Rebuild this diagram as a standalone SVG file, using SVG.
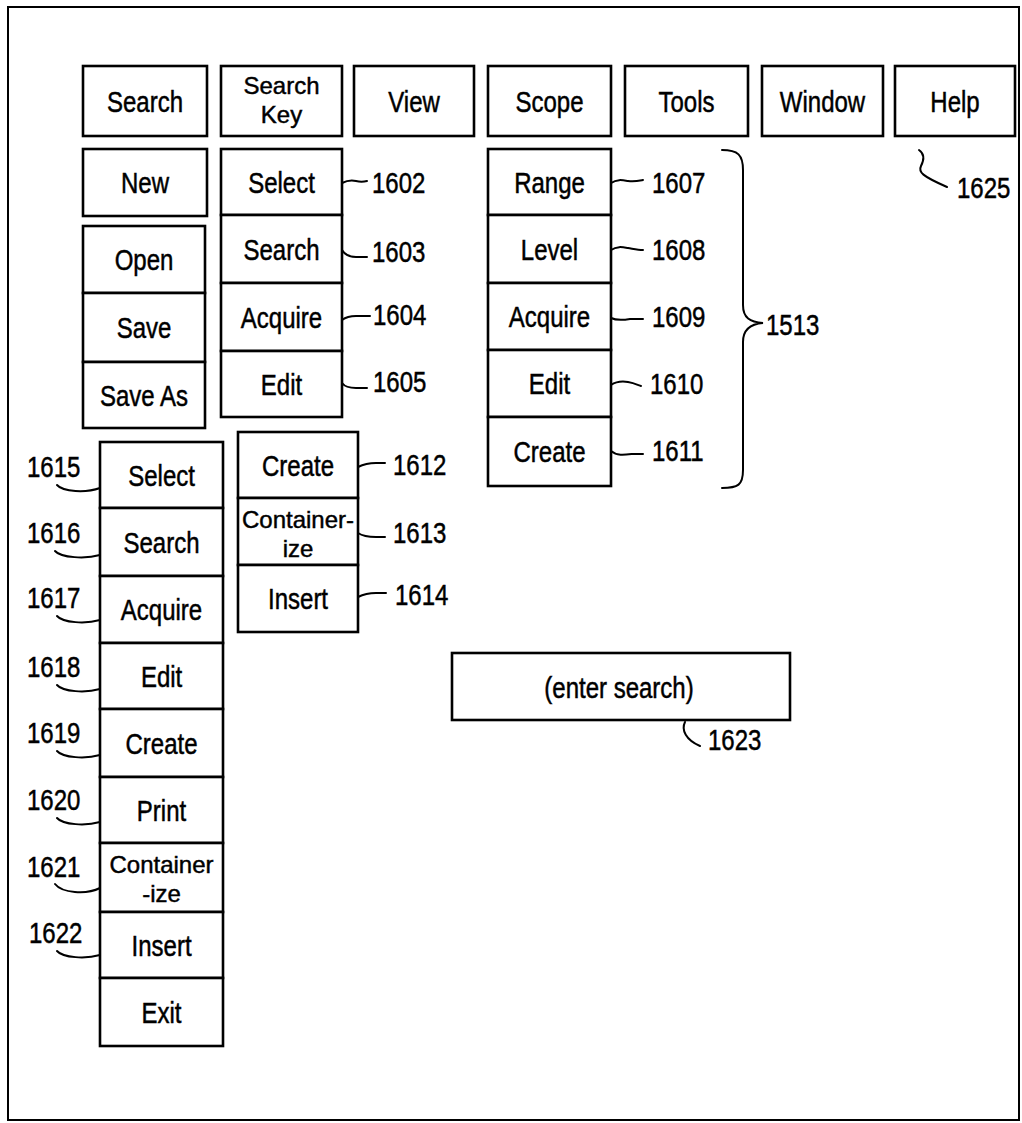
<svg xmlns="http://www.w3.org/2000/svg" width="1022" height="1123" viewBox="0 0 1022 1123">
<style>
  .frame { fill: none; stroke: #000; stroke-width: 2; }
  .box { fill: #fff; stroke: #000; stroke-width: 2.6; }
  .t { font-family: "Liberation Sans", Arial, sans-serif; font-size: 30px; fill: #000; stroke: #000; stroke-width: 0.5; text-anchor: middle; transform-box: fill-box; transform-origin: center; transform: scaleX(0.8); }
  .t2 { font-family: "Liberation Sans", Arial, sans-serif; font-size: 24px; fill: #000; stroke: #000; stroke-width: 0.45; text-anchor: middle; }
  .n { font-family: "Liberation Sans", Arial, sans-serif; font-size: 30px; fill: #000; stroke: #000; stroke-width: 0.5; text-anchor: start; transform-box: fill-box; transform-origin: left center; transform: scaleX(0.8); }
  .ld { fill: none; stroke: #000; stroke-width: 2; stroke-linecap: round; }
</style>
<rect class="frame" x="8" y="7" width="1011" height="1113"/>

<!-- Menu bar -->
<g id="menu-search"><rect class="box" x="83" y="66" width="124" height="70"/><text class="t" x="145" y="112">Search</text></g>
<g id="menu-searchkey"><rect class="box" x="221" y="66" width="121" height="70"/><text class="t2" x="281.5" y="94">Search<tspan x="281.5" y="123">Key</tspan></text></g>
<g id="menu-view"><rect class="box" x="354" y="66" width="120" height="70"/><text class="t" x="414" y="112">View</text></g>
<g id="menu-scope"><rect class="box" x="488" y="66" width="123" height="70"/><text class="t" x="549.5" y="112">Scope</text></g>
<g id="menu-tools"><rect class="box" x="625" y="66" width="123" height="70"/><text class="t" x="686.5" y="112">Tools</text></g>
<g id="menu-window"><rect class="box" x="762" y="66" width="121" height="70"/><text class="t" x="822.5" y="112">Window</text></g>
<g id="menu-help"><rect class="box" x="895" y="66" width="120" height="70"/><text class="t" x="955" y="112">Help</text></g>

<!-- Search menu items -->
<g id="file-new"><rect class="box" x="83" y="149" width="124" height="67"/><text class="t" x="145" y="193.5">New</text></g>
<g id="file-open"><rect class="box" x="83" y="226" width="122" height="67"/><text class="t" x="144" y="270.5">Open</text></g>
<g id="file-save"><rect class="box" x="83" y="293" width="122" height="69"/><text class="t" x="144" y="338.5">Save</text></g>
<g id="file-saveas"><rect class="box" x="83" y="362" width="122" height="66"/><text class="t" x="144" y="406">Save As</text></g>

<!-- Search Key dropdown -->
<g id="sk-select"><rect class="box" x="221" y="149" width="121" height="66"/><text class="t" x="281.5" y="193">Select</text></g>
<g id="sk-search"><rect class="box" x="221" y="215" width="121" height="68"/><text class="t" x="281.5" y="260">Search</text></g>
<g id="sk-acquire"><rect class="box" x="221" y="283" width="121" height="68"/><text class="t" x="281.5" y="328">Acquire</text></g>
<g id="sk-edit"><rect class="box" x="221" y="351" width="121" height="66"/><text class="t" x="281.5" y="395">Edit</text></g>

<!-- Scope dropdown -->
<g id="sc-range"><rect class="box" x="488" y="149" width="123" height="66"/><text class="t" x="549.5" y="193">Range</text></g>
<g id="sc-level"><rect class="box" x="488" y="215" width="123" height="68"/><text class="t" x="549.5" y="260">Level</text></g>
<g id="sc-acquire"><rect class="box" x="488" y="283" width="123" height="67"/><text class="t" x="549.5" y="327.5">Acquire</text></g>
<g id="sc-edit"><rect class="box" x="488" y="350" width="123" height="67"/><text class="t" x="549.5" y="394.5">Edit</text></g>
<g id="sc-create"><rect class="box" x="488" y="417" width="123" height="69"/><text class="t" x="549.5" y="462">Create</text></g>

<!-- Create / Containerize / Insert -->
<g id="cc-create"><rect class="box" x="238" y="432" width="120" height="66"/><text class="t" x="298" y="476">Create</text></g>
<g id="cc-containerize"><rect class="box" x="238" y="498" width="120" height="67"/><text class="t2" x="298" y="528">Container-<tspan x="298" y="557">ize</tspan></text></g>
<g id="cc-insert"><rect class="box" x="238" y="565" width="120" height="67"/><text class="t" x="298" y="609.5">Insert</text></g>

<!-- Long left column -->
<g id="lc-select"><rect class="box" x="100" y="442" width="123" height="66"/><text class="t" x="161.5" y="486">Select</text></g>
<g id="lc-search"><rect class="box" x="100" y="508" width="123" height="68"/><text class="t" x="161.5" y="553">Search</text></g>
<g id="lc-acquire"><rect class="box" x="100" y="576" width="123" height="67"/><text class="t" x="161.5" y="620.5">Acquire</text></g>
<g id="lc-edit"><rect class="box" x="100" y="643" width="123" height="66"/><text class="t" x="161.5" y="687">Edit</text></g>
<g id="lc-create"><rect class="box" x="100" y="709" width="123" height="68"/><text class="t" x="161.5" y="754">Create</text></g>
<g id="lc-print"><rect class="box" x="100" y="777" width="123" height="66"/><text class="t" x="161.5" y="821">Print</text></g>
<g id="lc-containerize"><rect class="box" x="100" y="843" width="123" height="69"/><text class="t2" x="161.5" y="873">Container<tspan x="161.5" y="902">-ize</tspan></text></g>
<g id="lc-insert"><rect class="box" x="100" y="912" width="123" height="66"/><text class="t" x="161.5" y="956">Insert</text></g>
<g id="lc-exit"><rect class="box" x="100" y="978" width="123" height="68"/><text class="t" x="161.5" y="1023">Exit</text></g>

<!-- Search entry -->
<g id="enter-search"><rect class="box" x="452" y="653" width="338" height="67"/><text class="t" x="619" y="698">(enter search)</text></g>

<!-- Connectors / leaders -->
<g id="connectors">
  <path class="ld" d="M342,183 C348,180 352,180 356,181 C360,182 363,182 367,181"/>
  <path class="ld" d="M342,250 C345,255 349,257 356,257 L367,257"/>
  <path class="ld" d="M342,320 C346,317 350,316 356,316 L370,316"/>
  <path class="ld" d="M342,383 C345,387 349,388 356,388 L367,388"/>

  <path class="ld" d="M611,183 C617,179 622,180 628,181 C634,182 638,181 643,180"/>
  <path class="ld" d="M611,250 C617,246 622,247 628,248 C634,249 638,250 643,250"/>
  <path class="ld" d="M611,318 C617,321 624,320 630,319 L643,319"/>
  <path class="ld" d="M611,385 C617,381 622,381 628,382 C634,383 638,385 641,386"/>
  <path class="ld" d="M611,451 C617,456 624,455 632,454 L643,454"/>

  <path class="ld" d="M722,150 C738,150 743,155 743,170 L743,305 C743,318 750,322 763,323 C750,324 743,330 743,342 L743,470 C743,485 738,488 722,488"/>

  <path class="ld" d="M919,150 C925,154 924,160 921,166 C918,172 922,176 947,187"/>

  <path class="ld" d="M358,467 C364,464 370,463 376,463 L385,463"/>
  <path class="ld" d="M358,533 C364,537 370,537 376,537 L385,537"/>
  <path class="ld" d="M358,597 C364,594 370,593 376,593 L386,593"/>

  <path class="ld" d="M57,485 C63,492 86,493 100,488"/>
  <path class="ld" d="M55,551 C61,558 86,559 100,555"/>
  <path class="ld" d="M57,616 C63,623 86,624 100,620"/>
  <path class="ld" d="M57,685 C63,692 86,693 100,689"/>
  <path class="ld" d="M57,751 C63,758 86,759 100,755"/>
  <path class="ld" d="M57,818 C63,825 86,826 100,822"/>
  <path class="ld" d="M55,884 C62,893 86,895 100,888"/>
  <path class="ld" d="M57,951 C63,958 86,959 100,955"/>

  <path class="ld" d="M685,722 C681,730 686,740 700,746"/>
</g>

<!-- Reference numerals -->
<g id="labels">
  <text class="n" x="372" y="193">1602</text>
  <text class="n" x="372" y="262">1603</text>
  <text class="n" x="373" y="325">1604</text>
  <text class="n" x="373" y="392">1605</text>
  <text class="n" x="652" y="193">1607</text>
  <text class="n" x="652" y="260">1608</text>
  <text class="n" x="652" y="327">1609</text>
  <text class="n" x="650" y="394">1610</text>
  <text class="n" x="652" y="461">1611</text>
  <text class="n" x="766" y="335">1513</text>
  <text class="n" x="957" y="198">1625</text>
  <text class="n" x="393" y="475">1612</text>
  <text class="n" x="393" y="543">1613</text>
  <text class="n" x="395" y="605">1614</text>
  <text class="n" x="27" y="477">1615</text>
  <text class="n" x="27" y="543">1616</text>
  <text class="n" x="27" y="608">1617</text>
  <text class="n" x="27" y="677">1618</text>
  <text class="n" x="27" y="743">1619</text>
  <text class="n" x="27" y="810">1620</text>
  <text class="n" x="27" y="877">1621</text>
  <text class="n" x="29" y="943">1622</text>
  <text class="n" x="708" y="750">1623</text>
</g>
</svg>
